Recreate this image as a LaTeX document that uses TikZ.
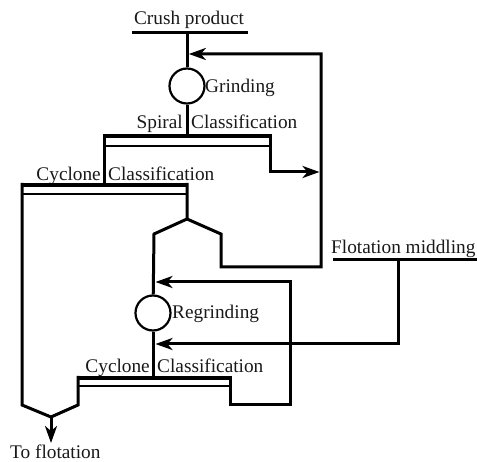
\documentclass[tikz,border=0pt]{standalone}
\usepackage{fontspec}
\setmainfont{Liberation Serif}
\usetikzlibrary{arrows.meta}
\begin{document}
\begin{tikzpicture}[x=1pt,y=-1pt, line join=miter,
  flow/.style={line width=3pt},
  thickbar/.style={line width=4.5pt},
  thinbar/.style={line width=2.4pt},
  arr/.style={flow,-{Stealth[length=17pt,width=12pt,inset=5pt]}},
  mill/.style={circle,draw,line width=2.2pt,minimum size=35pt,inner sep=0pt},
  lbl/.style={font=\fontsize{19.3}{22}\selectfont, inner sep=0pt, text=black!90}]
\useasboundingbox (0,0) rectangle (477,462);

% coordinates
\coordinate (cpL) at (132,33); \coordinate (cpR) at (248,33); \coordinate (cp) at (187,33);
\coordinate (ret) at (188.8,54); \coordinate (retC) at (321,54);
\coordinate (spIn) at (187,136);
\coordinate (spTL) at (104,136); \coordinate (spTR) at (270,136);
\coordinate (spBL) at (104,146); \coordinate (spBR) at (270,146);
\coordinate (spL0) at (104,134); \coordinate (spR0) at (270,134);
\coordinate (spR1) at (270,172); \coordinate (spArr) at (319.5,172);
\coordinate (c1L0) at (22,183); \coordinate (c1R0) at (187,183);
\coordinate (c1TL) at (22,185); \coordinate (c1TR) at (187,185);
\coordinate (c1BL) at (22,194); \coordinate (c1BR) at (187,194);
\coordinate (c1In) at (104,185);
\coordinate (apex) at (187,219);
\coordinate (apL) at (154,234); \coordinate (apR) at (221,234);
\coordinate (apR1) at (221,267); \coordinate (apR2) at (321,267);
\coordinate (c1bot) at (22,405); \coordinate (fin) at (51,417);
\coordinate (c2L1) at (78,405); \coordinate (c2L0) at (78,376);
\coordinate (c2TL) at (78,378); \coordinate (c2TR) at (230,378);
\coordinate (c2BL) at (78,386); \coordinate (c2BR) at (230,386);
\coordinate (c2In) at (153,378);
\coordinate (c2R0) at (230,376); \coordinate (c2R1) at (230,405);
\coordinate (c2R2) at (290,405); \coordinate (c2R3) at (290,282);
\coordinate (rg1) at (155.5,282);
\coordinate (fmL) at (333,260); \coordinate (fmR) at (477,260);
\coordinate (fm) at (398,260); \coordinate (fm1) at (398,344);
\coordinate (rg2) at (155.5,344);
\coordinate (out) at (51,443);

% mills
\node[mill] (g1) at (187,86) {};
\node[mill] (g2) at (153,313) {};

% labels
\node[lbl,anchor=base] (tcp) at (189,25) {Crush product};
\node[lbl,anchor=base west] (tg) at (205,93) {Grinding};
\node[lbl,anchor=base east] (ts) at (183,129) {Spiral};
\node[lbl,anchor=base west] (tsc) at (191,129) {Classification};
\node[lbl,anchor=base east] (tc1) at (101,181) {Cyclone};
\node[lbl,anchor=base west] (tc1c) at (108,181) {Classification};
\node[lbl,anchor=base west] (trg) at (172,319) {Regrinding};
\node[lbl,anchor=base west] (tfm) at (331,254) {Flotation middling};
\node[lbl,anchor=base east] (tc2) at (150,373) {Cyclone};
\node[lbl,anchor=base west] (tc2c) at (157,373) {Classification};
\node[lbl,anchor=base west] (tout) at (10,459) {To flotation};

% feed
\draw[flow] (cpL) -- (cpR);
\draw[flow] (cp) -- (g1);
\draw[flow] (g1) -- (spIn);
% spiral classifier
\draw[thickbar] (spTL) -- (spTR);
\draw[thinbar] (spBL) -- (spBR);
\draw[flow] (spL0) -- (c1In);
\draw[arr] (spR0) -- (spR1) -- (spArr);
% cyclone 1
\draw[thickbar] (c1TL) -- (c1TR);
\draw[thinbar] (c1BL) -- (c1BR);
\draw[flow] (c1L0) -- (c1bot) -- (fin) -- (c2L1) -- (c2L0);
\draw[flow] (c1R0) -- (apex) -- (apL) -- (g2);
\draw[arr] (apex) -- (apR) -- (apR1) -- (apR2) -- (retC) -- (ret);
% regrinding
\draw[flow] (g2) -- (c2In);
\draw[thickbar] (c2TL) -- (c2TR);
\draw[thinbar] (c2BL) -- (c2BR);
\draw[arr] (c2R0) -- (c2R1) -- (c2R2) -- (c2R3) -- (rg1);
% flotation middling
\draw[flow] (fmL) -- (fmR);
\draw[arr] (fm) -- (fm1) -- (rg2);
% output
\draw[arr] (fin) -- (out);
\end{tikzpicture}
\end{document}
